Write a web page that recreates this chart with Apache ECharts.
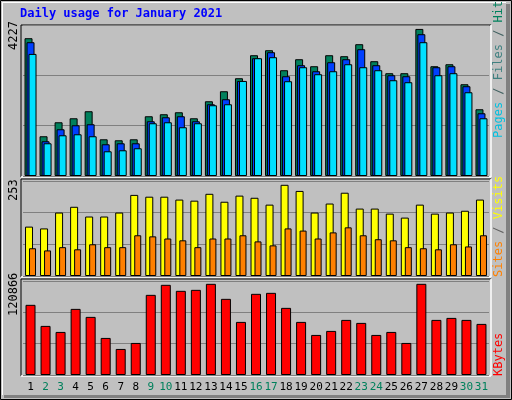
<!DOCTYPE html>
<html><head><meta charset="utf-8">
<script src="https://cdn.jsdelivr.net/npm/echarts@6/dist/echarts.min.js"></script>
<style>html,body{margin:0;padding:0;background:#c0c0c0}#c{width:512px;height:400px}</style>
</head><body><div id="c"></div>
<script>
const days = ['1','2','3','4','5','6','7','8','9','10','11','12','13','14','15','16','17','18','19','20','21','22','23','24','25','26','27','28','29','30','31'];
const weekend = [2,3,9,10,16,17,23,24,30,31];
const hits  = [3960,1142,1544,1659,1861,1055,1027,1055,1717,1775,1832,1659,2148,2436,2810,3471,3615,3040,3356,3155,3471,3443,3788,3299,2954,2954,4227,3155,3212,2637,1918];
const files = [3845,998,1343,1458,1487,912,940,940,1573,1688,1717,1573,2062,2206,2732,3385,3558,2867,3184,3011,3270,3356,3644,3184,2896,2867,4075,3126,3155,2580,1803];
const pages = [3509,940,1170,1199,1142,710,739,797,1516,1544,1401,1516,2033,2062,2732,3385,3414,2724,3126,2925,3011,3212,3126,3040,2752,2695,3845,2896,2954,2407,1659];
const visits = [137,132,176,192,165,165,176,225,220,220,212,209,228,206,223,217,198,253,236,176,201,231,187,187,173,162,198,173,176,181,212];
const sites  = [77,71,80,74,88,80,80,113,110,104,99,80,104,104,113,96,85,132,126,104,121,135,113,102,99,80,77,74,88,82,113];
const kbytes = [93000,65080,57100,87650,77030,49140,34530,42500,106250,119530,111560,112880,120866,100940,70390,107580,108900,88980,70390,53120,58440,73050,69060,53120,57100,42500,120866,73050,75700,73050,67730];
const tickLabels = ['4227','253','120866'];
const titleText = 'Daily usage for January 2021';

const chart = echarts.init(document.getElementById('c'));
const mono = 'DejaVu Sans Mono';
const grids = [
  {left:23, width:466, top:25, height:151},
  {left:23, width:466, top:181, height:95},
  {left:23, width:466, top:281, height:94}
];
const maxes = [4227/0.974, 253/0.96, 120866/0.97];
function xa(i){return {type:'category', gridIndex:i, data:days, axisTick:{show:false}, axisLine:{show:false},
  axisLabel: i===2 ? {show:true, fontFamily:mono, fontSize:11, margin:7, interval:0,
    color:(v)=> weekend.includes(+v)?'#00805c':'#000000'} : {show:false}};}
function ya(i){return {type:'value', gridIndex:i, min:0, max:maxes[i], interval:maxes[i]/3, axisLabel:{show:false},
  axisLine:{show:false}, axisTick:{show:false}, splitLine:{show:true, lineStyle:{color:'#808080', width:1}}};}
const bstyle = c => ({color:c, borderColor:'#000', borderWidth:1});
function frame(x1,y1,x2,y2){return [
  {type:'line', shape:{x1:x1,y1:y1,x2:x2,y2:y1}, style:{stroke:'#000', lineWidth:1}, z:-1},
  {type:'line', shape:{x1:x1,y1:y1,x2:x1,y2:y2}, style:{stroke:'#000', lineWidth:1}, z:-1},
  {type:'line', shape:{x1:x2,y1:y1,x2:x2,y2:y2}, style:{stroke:'#fff', lineWidth:1.5}, z:-1},
  {type:'line', shape:{x1:x1,y1:y2,x2:x2,y2:y2}, style:{stroke:'#fff', lineWidth:1.5}, z:-1}];}
chart.setOption({
  animation:false,
  backgroundColor:'#c0c0c0',
  grid:grids,
  xAxis:[xa(0),xa(1),xa(2)],
  yAxis:[ya(0),ya(1),ya(2)],
  series:[
    {type:'bar', xAxisIndex:0, yAxisIndex:0, data:hits, barWidth:8, barGap:'-75%', itemStyle:bstyle('#00805c')},
    {type:'bar', xAxisIndex:0, yAxisIndex:0, data:files, barWidth:8, barGap:'-75%', itemStyle:bstyle('#0040ff')},
    {type:'bar', xAxisIndex:0, yAxisIndex:0, data:pages, barWidth:8, barGap:'-75%', itemStyle:bstyle('#00e0ff')},
    {type:'bar', xAxisIndex:1, yAxisIndex:1, data:visits, barWidth:8, barGap:'-50%', itemStyle:bstyle('#ffff00')},
    {type:'bar', xAxisIndex:1, yAxisIndex:1, data:sites, barWidth:7, barGap:'-50%', itemStyle:bstyle('#ff8000')},
    {type:'bar', xAxisIndex:2, yAxisIndex:2, data:kbytes, barWidth:10, itemStyle:bstyle('#ff0000')}
  ],
  graphic:[
    {type:'rect', shape:{x:0.5,y:0.5,width:511,height:399}, style:{fill:'none', stroke:'#000', lineWidth:1}, z:-2},
    {type:'rect', shape:{x:506,y:4,width:4,height:392}, style:{fill:'#808080'}, z:-2},
    {type:'rect', shape:{x:4,y:395,width:506,height:3}, style:{fill:'#808080'}, z:-2},
    {type:'rect', shape:{x:2,y:2,width:504,height:1}, style:{fill:'#fff'}, z:-2},
    {type:'rect', shape:{x:2,y:2,width:1,height:393}, style:{fill:'#fff'}, z:-2},
    ...frame(21,25,491,177), ...frame(21,179,491,277), ...frame(21,279,491,376),
    {type:'text', left:20, top:8, style:{text:titleText, fill:'#0000ff', font:'bold 12px '+mono}},
    {type:'text', x:8, y:50, rotation:Math.PI/2, style:{text:tickLabels[0], fill:'#000', font:'12px '+mono, textVerticalAlign:'top'}},
    {type:'text', x:8, y:201, rotation:Math.PI/2, style:{text:tickLabels[1], fill:'#000', font:'12px '+mono, textVerticalAlign:'top'}},
    {type:'text', x:8, y:316, rotation:Math.PI/2, style:{text:tickLabels[2], fill:'#000', font:'12px '+mono, textVerticalAlign:'top'}},
    {type:'text', x:493, y:138, rotation:Math.PI/2, style:{
      text:'{p|Pages}{s| / }{f|Files}{s| / }{h|Hits}', font:'12px '+mono, textVerticalAlign:'top',
      rich:{p:{fill:'#00c0e0', font:'12px '+mono}, s:{fill:'#406060', font:'12px '+mono}, f:{fill:'#408080', font:'12px '+mono}, h:{fill:'#00805c', font:'12px '+mono}}}},
    {type:'text', x:493, y:277, rotation:Math.PI/2, style:{
      text:'{a|Sites}{s| / }{b|Visits}', font:'12px '+mono, textVerticalAlign:'top',
      rich:{a:{fill:'#ff8000', font:'12px '+mono}, s:{fill:'#606060', font:'12px '+mono}, b:{fill:'#ffff00', font:'12px '+mono}}}},
    {type:'text', x:493, y:376, rotation:Math.PI/2, style:{text:'KBytes', fill:'#ff0000', font:'12px '+mono, textVerticalAlign:'top'}}
  ]
});
</script></body></html>
